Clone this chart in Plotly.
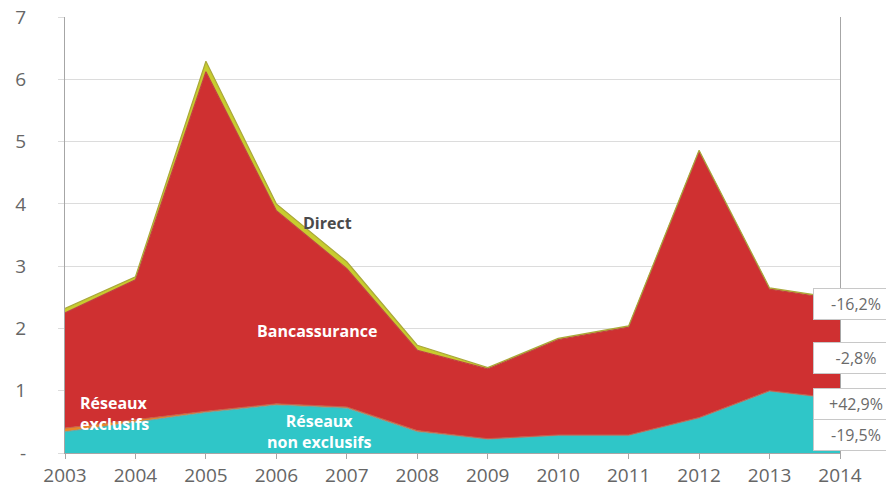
import plotly.graph_objects as go

years = [2003, 2004, 2005, 2006, 2007, 2008, 2009, 2010, 2011, 2012, 2013, 2014]
reseaux_non_exclusifs = [0.34, 0.50, 0.65, 0.77, 0.72, 0.34, 0.22, 0.28, 0.28, 0.56, 0.99, 0.86]
reseaux_exclusifs = [0.06, 0.04, 0.02, 0.02, 0.02, 0.02, 0.01, 0.01, 0.01, 0.01, 0.01, 0.01]
bancassurance = [1.85, 2.24, 5.45, 3.10, 2.22, 1.29, 1.12, 1.53, 1.73, 4.27, 1.63, 1.59]
direct = [0.07, 0.05, 0.17, 0.11, 0.11, 0.08, 0.02, 0.02, 0.02, 0.02, 0.02, 0.02]

y_tickvals = [0, 1, 2, 3, 4, 5, 6, 7]
y_ticktext = ["-", "1", "2", "3", "4", "5", "6", "7"]

variations = ["-16,2%", "-2,8%", "+42,9%", "-19,5%"]
variation_y = [2.39, 1.52, 0.79, 0.29]

fig = go.Figure()
series = [
    ("Réseaux non exclusifs", reseaux_non_exclusifs, "#2fc6c8", "#6aa6a6", 1.0),
    ("Réseaux exclusifs", reseaux_exclusifs, "#e8862a", "#c4604c", 1.0),
    ("Bancassurance", bancassurance, "#cf3031", "#c04040", 1.2),
    ("Direct", direct, "#c8cc2e", "#a9a83a", 1.2),
]
for name, vals, fillc, linec, lw in series:
    fig.add_trace(go.Scatter(
        x=years, y=vals, name=name, stackgroup="one", mode="lines",
        line=dict(color=linec, width=lw), fillcolor=fillc,
        showlegend=False, hoverinfo="skip",
    ))

fig.add_annotation(x=2006.72, y=3.69, text="<b>Direct</b>", showarrow=False,
                   font=dict(family="Open Sans", size=16, color="#4a4a4a"))
fig.add_annotation(x=2006.58, y=1.96, text="<b>Bancassurance</b>", showarrow=False,
                   font=dict(family="Open Sans", size=16, color="white"))
fig.add_annotation(x=2003.70, y=0.64, text="<b>Réseaux<br>exclusifs</b>", showarrow=False,
                   align="left", font=dict(family="Open Sans", size=16, color="white"))
fig.add_annotation(x=2006.61, y=0.34, text="<b>Réseaux<br>non exclusifs</b>", showarrow=False,
                   align="center", font=dict(family="Open Sans", size=16, color="white"))

for txt, yv in zip(variations, variation_y):
    fig.add_annotation(x=2013.62, y=yv, text=txt, showarrow=False, xanchor="left",
                       width=76, align="center", bgcolor="white", bordercolor="#c8c8c8",
                       borderwidth=1, borderpad=4,
                       font=dict(family="Open Sans", size=16, color="#6a6a6a"))

fig.update_layout(
    width=886, height=489,
    margin=dict(l=65, r=46, t=17, b=36, autoexpand=False),
    paper_bgcolor="white", plot_bgcolor="white",
    font=dict(family="Open Sans", color="#666666"),
)
fig.update_xaxes(
    range=[2003, 2014], tickmode="array", tickvals=years,
    showgrid=False, showline=True, linecolor="#a6a6a6", linewidth=1,
    ticks="outside", ticklen=5, tickcolor="#a6a6a6",
    tickfont=dict(family="Open Sans", size=19, color="#666666"),
    zeroline=False, automargin=False,
)
fig.update_yaxes(
    range=[0, 7], tickmode="array", tickvals=y_tickvals, ticktext=y_ticktext,
    showgrid=True, gridcolor="#dcdcdc", gridwidth=1,
    showline=True, linecolor="#a6a6a6", linewidth=1, mirror=True,
    ticks="outside", ticklen=6, tickcolor="#dcdcdc",
    ticklabelstandoff=28,
    tickfont=dict(family="Open Sans", size=19, color="#666666"),
    zeroline=False, automargin=False,
)

fig.write_html("out.html")
